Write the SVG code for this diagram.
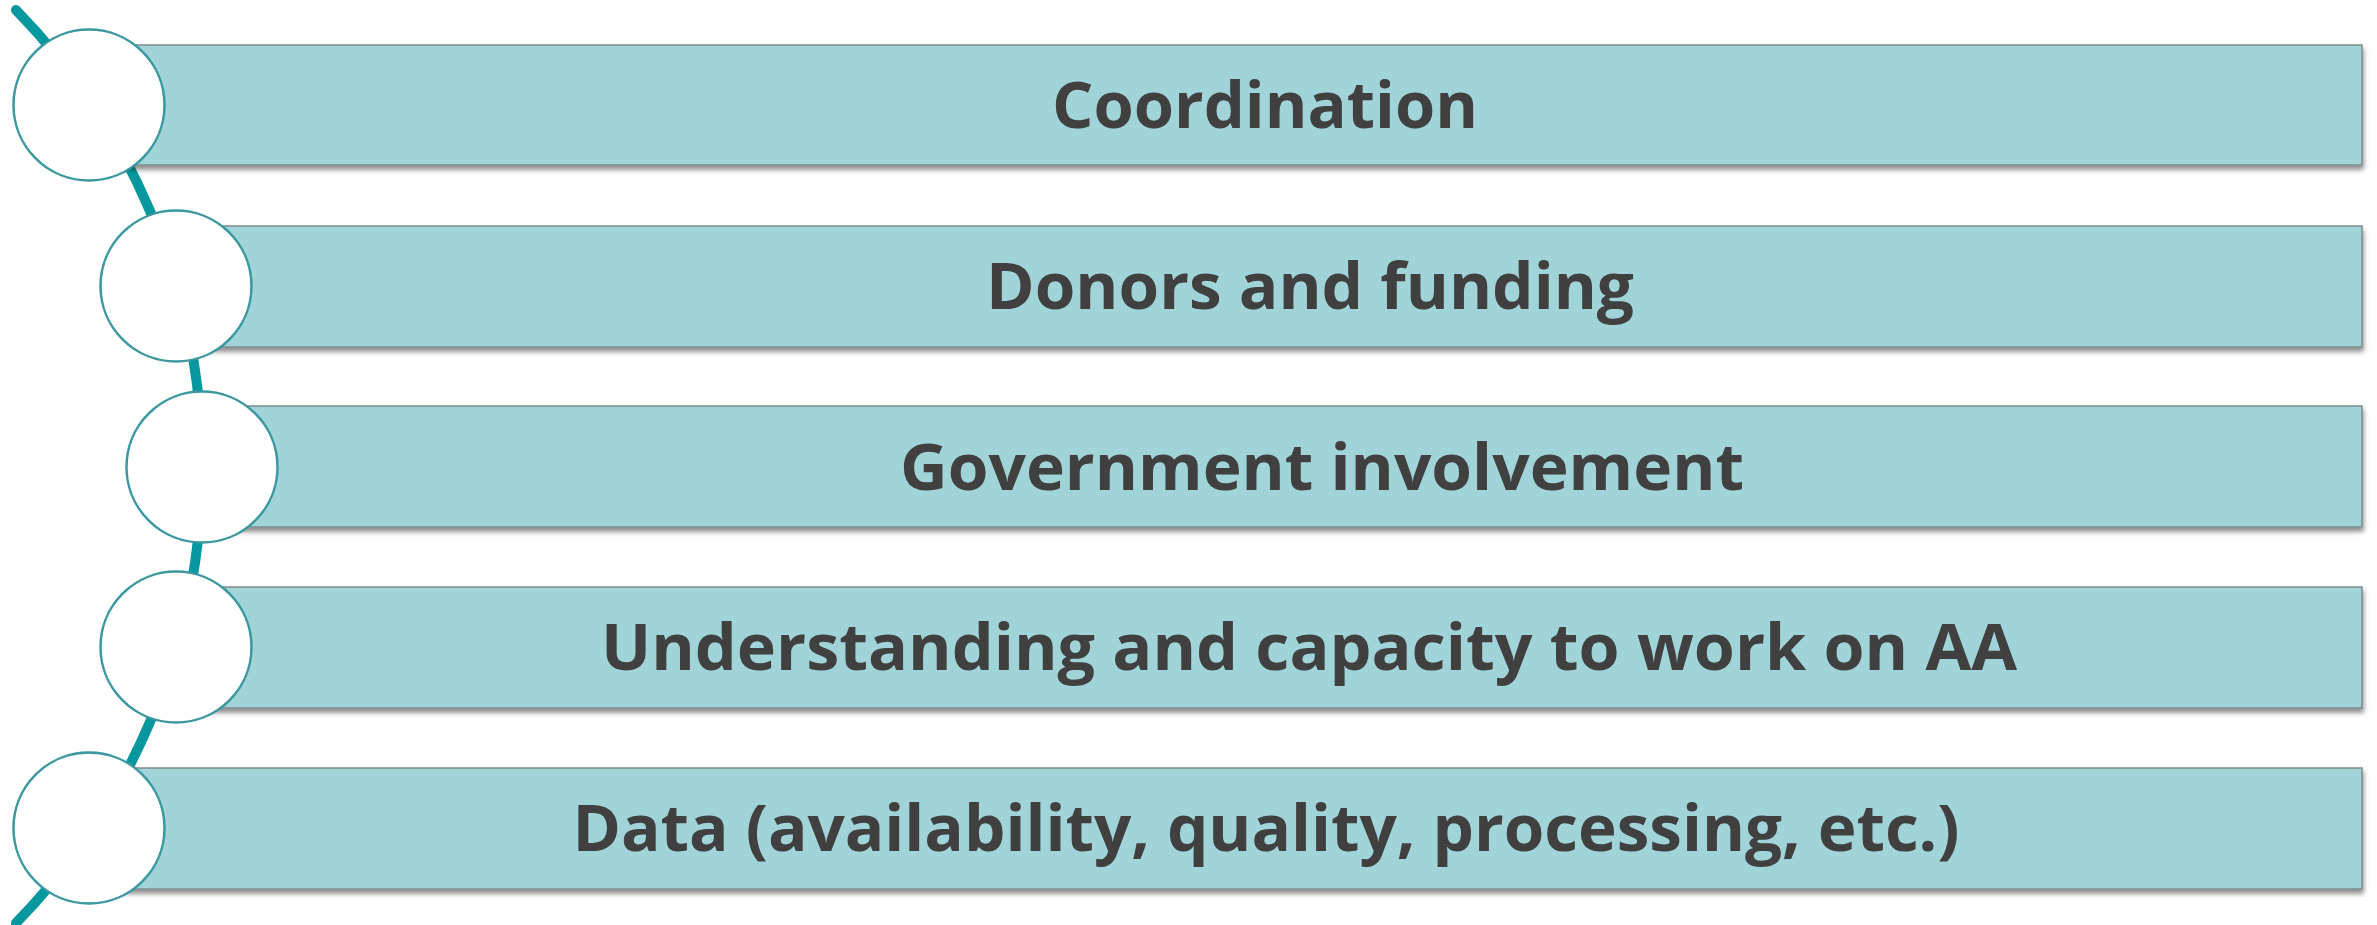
<svg xmlns="http://www.w3.org/2000/svg" width="2377" height="925" viewBox="0 0 2377 925">
<defs>
<filter id="sh" x="-5%" y="-20%" width="110%" height="150%">
<feDropShadow dx="1" dy="4" stdDeviation="2.5" flood-color="#000" flood-opacity="0.45"/>
</filter>
<style>
.bar{fill:#a0d4d8;stroke:#7d8a8c;stroke-width:1.5;filter:url(#sh)}
.dot{fill:#ffffff;stroke:#3b98a0;stroke-width:2.5}
.lbl{font-family:"Open Sans","Liberation Sans",sans-serif;font-weight:700;font-size:65px;fill:#404040;text-anchor:middle}
.arc{fill:none;stroke:#07979f;stroke-width:10;stroke-linecap:round}
</style>
</defs>
<rect width="2377" height="925" fill="#ffffff"/>
<g id="connectors">
<path class="arc" d="M 16 10 A 653 653 0 0 1 16 923"/>
</g>
<g id="node1">
<rect class="bar" x="89" y="45" width="2273" height="120"/>
<circle class="dot" cx="89" cy="105" r="75.5"/>
<text class="lbl" x="1265" y="128" textLength="426" lengthAdjust="spacingAndGlyphs">Coordination</text>
</g>
<g id="node2">
<rect class="bar" x="176" y="226" width="2186" height="121"/>
<circle class="dot" cx="176" cy="286" r="75.5"/>
<text class="lbl" x="1310" y="309" textLength="648" lengthAdjust="spacingAndGlyphs">Donors and funding</text>
</g>
<g id="node3">
<rect class="bar" x="202" y="406" width="2160" height="121"/>
<circle class="dot" cx="202" cy="467" r="75.5"/>
<text class="lbl" x="1322" y="490" textLength="844" lengthAdjust="spacingAndGlyphs">Government involvement</text>
</g>
<g id="node4">
<rect class="bar" x="176" y="587" width="2186" height="121"/>
<circle class="dot" cx="176" cy="647" r="75.5"/>
<text class="lbl" x="1309" y="670" textLength="1416" lengthAdjust="spacingAndGlyphs">Understanding and capacity to work on AA</text>
</g>
<g id="node5">
<rect class="bar" x="89" y="768" width="2273" height="121"/>
<circle class="dot" cx="89" cy="828" r="75.5"/>
<text class="lbl" x="1266" y="851" textLength="1387" lengthAdjust="spacingAndGlyphs">Data (availability, quality, processing, etc.)</text>
</g>
</svg>
